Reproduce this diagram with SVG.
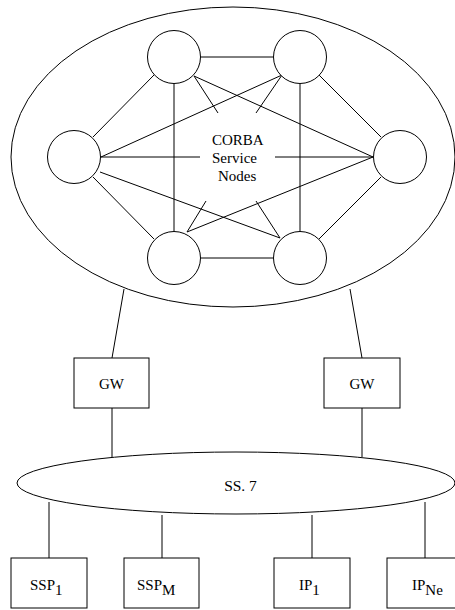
<svg xmlns="http://www.w3.org/2000/svg" width="455" height="610" viewBox="0 0 455 610">
<style>
.s{fill:none;stroke:#000;stroke-width:1}
.n{fill:#fff;stroke:#000;stroke-width:1}
.t{font-family:"Liberation Serif","Times New Roman",serif;font-size:15px;fill:#000}
.c{font-family:"Liberation Serif","Times New Roman",serif;font-size:15px;fill:#000}
</style>
<rect width="455" height="610" fill="#fff"/>
<g id="corba-cloud"><ellipse class="s" cx="233" cy="157" rx="222" ry="150"/></g>
<g id="connectors" class="s">
<line x1="201" y1="57" x2="273" y2="57"/>
<line x1="201" y1="258" x2="273" y2="258"/>
<line x1="174" y1="84" x2="174" y2="231"/>
<line x1="300" y1="84" x2="300" y2="231"/>
<line x1="93" y1="137" x2="154" y2="75"/>
<line x1="319" y1="75" x2="381" y2="137"/>
<line x1="93" y1="177" x2="154" y2="239"/>
<line x1="381" y1="177" x2="319" y2="239"/>
<line x1="101" y1="157" x2="200" y2="157"/>
<line x1="275" y1="157" x2="373" y2="157"/>
<line x1="101" y1="157" x2="282" y2="75"/>
<line x1="100" y1="172" x2="280" y2="238"/>
<line x1="194" y1="76" x2="373" y2="157"/>
<line x1="187" y1="232" x2="373" y2="157"/>
<line x1="194" y1="76" x2="218" y2="113"/>
<line x1="282" y1="75" x2="256" y2="113"/>
<line x1="187" y1="232" x2="206" y2="201"/>
<line x1="280" y1="238" x2="256" y2="201"/>
<line x1="124" y1="289" x2="112" y2="358"/>
<line x1="350" y1="289" x2="362" y2="358"/>
<line x1="112" y1="408" x2="112" y2="457"/>
<line x1="362" y1="408" x2="362" y2="457"/>
<line x1="49" y1="502" x2="49" y2="558"/>
<line x1="162" y1="515" x2="162" y2="558"/>
<line x1="312" y1="515" x2="312" y2="558"/>
<line x1="425" y1="502" x2="425" y2="558"/>
</g>
<g id="node-tl"><circle class="n" cx="174" cy="57" r="26.5"/></g>
<g id="node-tr"><circle class="n" cx="300" cy="57" r="26.5"/></g>
<g id="node-l"><circle class="n" cx="74" cy="157" r="26.5"/></g>
<g id="node-r"><circle class="n" cx="400" cy="157" r="26.5"/></g>
<g id="node-bl"><circle class="n" cx="174" cy="258" r="26.5"/></g>
<g id="node-br"><circle class="n" cx="300" cy="258" r="26.5"/></g>
<g id="corba-label">
<text class="c" x="212" y="145">CORBA</text>
<text class="c" x="212" y="163">Service</text>
<text class="c" x="218" y="181">Nodes</text>
</g>
<g id="gw-left"><rect class="n" x="74" y="358" width="75" height="50"/><text class="t" x="111.5" y="389" text-anchor="middle">GW</text></g>
<g id="gw-right"><rect class="n" x="324" y="358" width="76" height="50"/><text class="t" x="362" y="389" text-anchor="middle">GW</text></g>
<g id="ss7"><ellipse class="s" cx="236" cy="483" rx="219" ry="31"/><text class="t" x="240.5" y="491" text-anchor="middle" style="font-size:15.5px">SS. 7</text></g>
<g id="ssp1"><rect class="n" x="11" y="558" width="76" height="50"/><text class="t" x="30" y="590">SSP<tspan dy="5">1</tspan></text></g>
<g id="sspm"><rect class="n" x="124" y="558" width="75" height="50"/><text class="t" x="137" y="590">SSP<tspan dy="5">M</tspan></text></g>
<g id="ip1"><rect class="n" x="274" y="558" width="76" height="50"/><text class="t" x="299" y="590">IP<tspan dy="5">1</tspan></text></g>
<g id="ipne"><rect class="n" x="387" y="558" width="76" height="50"/><text class="t" x="412" y="590">IP<tspan dy="5">Ne</tspan></text></g>
</svg>
